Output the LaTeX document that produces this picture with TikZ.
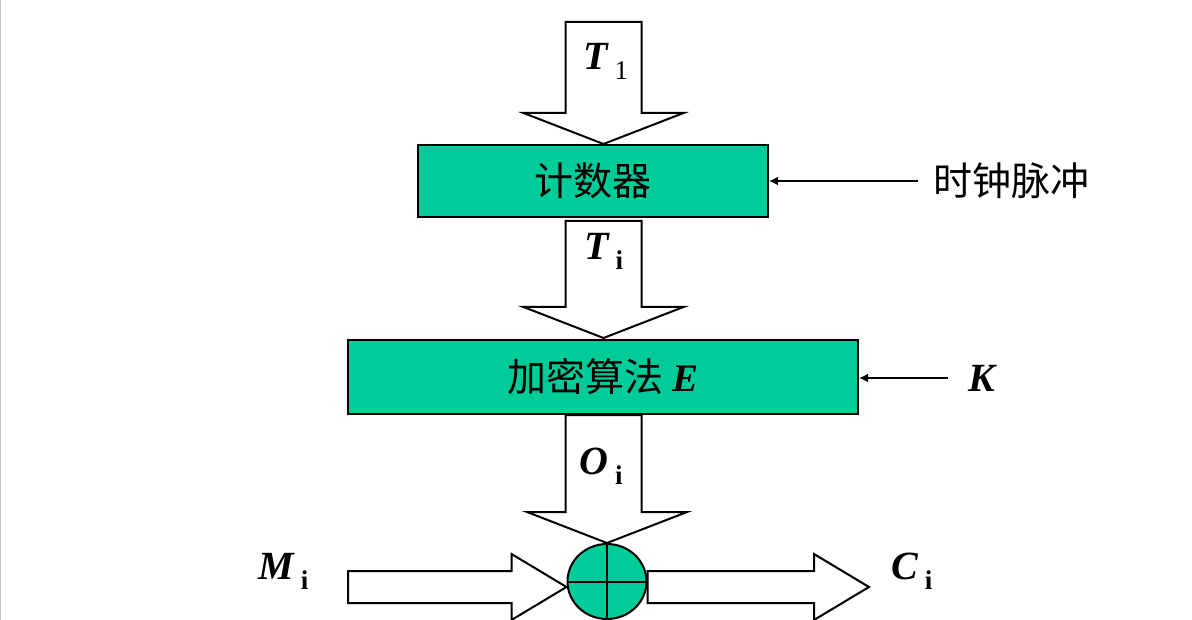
\documentclass[tikz,border=0pt]{standalone}
\usepackage{fontspec}
\setmainfont{Liberation Serif}
\newfontfamily\cjk{Noto Sans CJK SC}
\usepackage{xcolor}
\usetikzlibrary{calc, arrows.meta, shapes.geometric}
\definecolor{boxgreen}{RGB}{0,204,153}

% symbol with a lowered index
\newcommand{\sym}[2]{{\bfseries\itshape #1}\hspace{7pt}\raisebox{-10pt}{\fontsize{27}{27}\selectfont #2}}
% hollow arrows: #1 start, #2 tip (named coordinates)
\newcommand{\fatdown}[2]{\draw[fat] ($(#1)+(-38,0)$) -- ($(#1 |- #2)+(-38,-31)$) -- ($(#2)+(-80,-31)$) -- (#2) -- ($(#2)+(80,-31)$) -- ($(#1 |- #2)+(38,-31)$) -- ($(#1)+(38,0)$) -- cycle;}
\newcommand{\fatright}[2]{\draw[fat] ($(#1)+(0,-16)$) -- ($(#2)+(-55,-16)$) -- ++(0,-17) -- (#2) -- ($(#2)+(-55,33)$) -- ++(0,-17) -- ($(#1)+(0,16)$) -- cycle;}

\begin{document}
\begin{tikzpicture}[x=1pt, y=-1pt,
    block/.style={draw, line width=2pt, fill=boxgreen, inner sep=0pt, font=\cjk\fontsize{39}{39}\selectfont},
    fat/.style={line width=2pt, fill=white, line join=miter},
    ptr/.style={line width=2pt, -{Latex[length=9pt,width=9pt]}},
    lbl/.style={inner sep=0pt, font=\fontsize{40}{40}\selectfont}]
    \useasboundingbox (0,0) rectangle (1192,620);
    \draw[gray!45, line width=1.2pt] (0.6,0) -- (0.6,620);

    % blocks
    \node[block, minimum width=350pt, minimum height=72pt] (cnt) at (593,181) {计数器};
    \node[block, minimum width=510pt, minimum height=74pt] (enc) at (603,377) {加密算法 {\rmfamily\bfseries\itshape E}};
    \node[draw, ellipse, line width=2pt, fill=boxgreen, minimum width=79pt, minimum height=75pt, inner sep=0pt] (xor) at (607,581.5) {};
    \coordinate (t1) at (603.5,22);
    \coordinate (t1tip) at (cnt.north -| t1);
    \coordinate (ti) at ($(cnt.south -| t1)+(0,3)$);
    \coordinate (titip) at ($(enc.north -| t1)+(0,-1)$);
    \coordinate (oi) at (enc.south -| t1);
    \coordinate (m) at (348,587);
    \coordinate (c) at (869,587);

    % hollow arrows
    \fatdown{t1}{t1tip}
    \fatdown{ti}{titip}
    \fatdown{oi}{xor.north}
    \fatright{m}{xor.west |- m}
    \fatright{xor.east |- m}{c}
    \draw[line width=2pt] (xor.north) -- (xor.south) (xor.west) -- (xor.east);

    % labels
    \node[lbl, anchor=base west] at (583,70) {\sym{T}{1}};
    \node[lbl, anchor=base west] at (584,260) {\sym{T}{\bfseries i}};
    \node[lbl, anchor=base west] at (579,474) {\sym{O}{\bfseries i}};
    \node[lbl, anchor=base west] at (258,579) {\sym{M}{\bfseries i}};
    \node[lbl, anchor=base west] at (891,579) {\sym{C}{\bfseries i}};

    % side inputs
    \node[anchor=west, inner sep=0pt, font=\cjk\fontsize{39}{39}\selectfont] (clk) at (933,181) {时钟脉冲};
    \node[lbl, anchor=west] (key) at (968,378) {\bfseries\itshape K};
    \draw[ptr] ([xshift=-15pt]clk.west) -- (cnt.east |- clk.west);
    \draw[ptr] ([xshift=-20pt]key.west) -- (enc.east |- key.west);
\end{tikzpicture}
\end{document}
